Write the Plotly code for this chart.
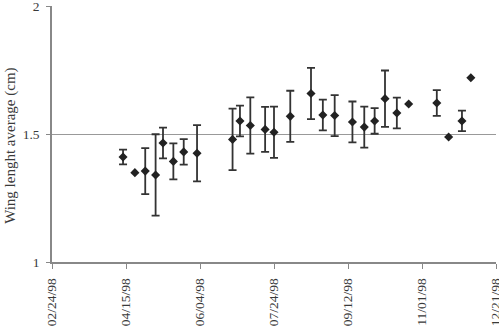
import plotly.graph_objects as go

dates = ["1998-04-13", "1998-04-21", "1998-04-28", "1998-05-05", "1998-05-10",
         "1998-05-17", "1998-05-24", "1998-06-02", "1998-06-26", "1998-07-01",
         "1998-07-08", "1998-07-18", "1998-07-24", "1998-08-04", "1998-08-18",
         "1998-08-26", "1998-09-03", "1998-09-15", "1998-09-23", "1998-09-30",
         "1998-10-07", "1998-10-15", "1998-10-23", "1998-11-11", "1998-11-19",
         "1998-11-28", "1998-12-04"]
means = [1.410, 1.349, 1.355, 1.340, 1.465, 1.393, 1.430, 1.425, 1.479, 1.551,
         1.533, 1.518, 1.507, 1.569, 1.658, 1.574, 1.572, 1.547, 1.527, 1.551,
         1.638, 1.582, 1.617, 1.621, 1.488, 1.551, 1.720]
errors = [0.029, None, 0.090, 0.159, 0.060, 0.070, 0.050, 0.110, 0.120, 0.060,
          0.110, 0.088, 0.100, 0.100, 0.100, 0.060, 0.080, 0.080, 0.080, 0.050,
          0.110, 0.060, None, 0.050, None, 0.040, None]
tick_dates = ["1998-02-24", "1998-04-15", "1998-06-04", "1998-07-24",
              "1998-09-12", "1998-11-01", "1998-12-21"]
tick_labels = ["02/24/98", "04/15/98", "06/04/98", "07/24/98",
               "09/12/98", "11/01/98", "12/21/98"]
y_ticks = [1, 1.5, 2]
y_title = "Wing lenght average (cm)"

FONT = "Liberation Serif"
INK = "#222222"
TXT = "#3a3a3a"

ex = [d for d, e in zip(dates, errors) if e is not None]
ey = [m for m, e in zip(means, errors) if e is not None]
ee = [e for e in errors if e is not None]
nx = [d for d, e in zip(dates, errors) if e is None]
ny = [m for m, e in zip(means, errors) if e is None]

fig = go.Figure()
fig.add_trace(go.Scatter(
    x=ex, y=ey, mode="markers",
    marker=dict(symbol="diamond", size=7, color=INK),
    error_y=dict(type="data", array=ee, visible=True, color="#333333",
                 thickness=1.8, width=4),
    showlegend=False, cliponaxis=False))
fig.add_trace(go.Scatter(
    x=nx, y=ny, mode="markers",
    marker=dict(symbol="diamond", size=7, color=INK),
    showlegend=False, cliponaxis=False))

fig.update_layout(
    template="none",
    width=499, height=333,
    margin=dict(l=52, r=3, t=6, b=71),
    paper_bgcolor="white", plot_bgcolor="white",
    font=dict(family=FONT, size=13, color=TXT),
    xaxis=dict(
        type="date",
        range=["1998-02-24", "1998-12-21"],
        tickmode="array", tickvals=tick_dates, ticktext=tick_labels,
        tickangle=-90, ticks="outside", ticklen=5, tickcolor="#888888",
        ticklabelstandoff=4, ticklabeloverflow="allow",
        showline=True, linecolor="#888888", linewidth=1.5,
        showgrid=False, zeroline=False, automargin=False,
        tickfont=dict(family=FONT, size=13.5, color=TXT),
    ),
    yaxis=dict(
        range=[1, 2],
        tickmode="array", tickvals=y_ticks, ticktext=["1", "1.5", "2"],
        ticks="outside", ticklen=4, tickcolor="#888888",
        ticklabelstandoff=4, ticklabeloverflow="allow",
        showline=True, linecolor="#888888", linewidth=1.5,
        showgrid=True, gridcolor="#999999", gridwidth=1,
        zeroline=False, automargin=False,
        tickfont=dict(family=FONT, size=13.5, color=TXT),
    ),
    annotations=[dict(
        text=y_title, textangle=-90, showarrow=False,
        xref="paper", yref="paper", x=-0.095, y=0.453,
        xanchor="center", yanchor="middle",
        font=dict(family=FONT, size=15, color=TXT))],
)

fig.write_html("out.html")
